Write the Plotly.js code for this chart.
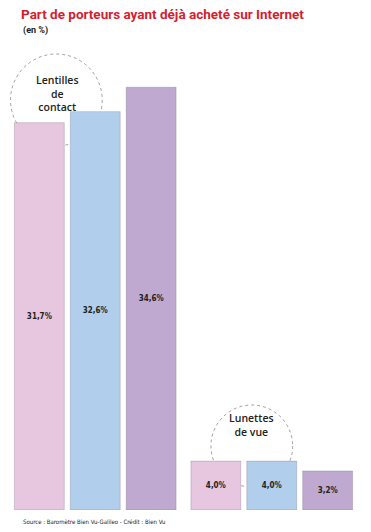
<!DOCTYPE html>
<html>
<head>
<meta charset="utf-8">
<script src="https://cdn.plot.ly/plotly-3.0.1.min.js"></script>
<style>
  html, body { margin: 0; padding: 0; background: #fff; }
  #chart { width: 371px; height: 532px; }
</style>
</head>
<body>
<div id="chart"></div>
<script>
// Data
const categories = ['Lentilles de contact', 'Lunettes de vue'];
const seriesNames = ['Série 1', 'Série 2', 'Série 3'];
const series1 = [31.7, 4.0];
const series2 = [32.6, 4.0];
const series3 = [34.6, 3.2];
const seriesColors = ['#e7c6df', '#b1cfec', '#bfa9d0'];

const fmt = v => v.toFixed(1).replace('.', ',') + '%';
const condensed = '"DejaVu Sans Condensed", "Liberation Sans Narrow", Arial, sans-serif';
const titleFont = 'Roboto, "Liberation Sans", Arial, sans-serif';

const allSeries = [series1, series2, series3];
const traces = allSeries.map((vals, i) => ({
  type: 'bar',
  name: seriesNames[i],
  x: categories,
  y: vals,
  text: vals.map(fmt),
  textposition: 'inside',
  insidetextanchor: 'middle',
  textangle: 0,
  constraintext: 'none',
  textfont: { family: condensed, size: 8, color: '#222222', weight: 'bold' },
  marker: { color: seriesColors[i], line: { color: 'rgba(80,70,90,0.22)', width: 1 } },
  hoverinfo: 'skip'
}));

const l = 6.5, r = 10.5, t = 60, b = 22;
const W = 371 - l - r, H = 532 - t - b;
const px = v => (v - l) / W;
const py = v => (532 - b - v) / H;

const layout = {
  width: 371, height: 532,
  margin: { l: l, r: r, t: t, b: b, pad: 0 },
  paper_bgcolor: '#ffffff', plot_bgcolor: 'rgba(0,0,0,0)',
  barmode: 'group',
  bargap: 0.05,
  bargroupgap: 0.107,
  showlegend: false,
  title: {
    text: 'Part de porteurs ayant déjà acheté sur Internet',
    font: { family: titleFont, size: 13.5, color: '#d3222f', weight: 'bold' },
    x: 21 / 371, xref: 'container', xanchor: 'left',
    y: 1 - 10 / 532, yref: 'container', yanchor: 'top'
  },
  xaxis: { type: 'category', visible: false, range: [-0.5, 1.5], fixedrange: true },
  yaxis: { visible: false, range: [0, H / 12.22], fixedrange: true },
  shapes: [
    { type: 'circle', xref: 'paper', yref: 'paper', layer: 'below',
      x0: px(10), x1: px(102), y0: py(146), y1: py(54),
      line: { color: '#777777', width: 0.7, dash: 'dot' } },
    { type: 'circle', xref: 'paper', yref: 'paper', layer: 'below',
      x0: px(211), x1: px(293), y0: py(487), y1: py(405),
      line: { color: '#777777', width: 0.7, dash: 'dot' } }
  ],
  annotations: [
    { text: '(en %)', xref: 'paper', yref: 'paper', x: px(21), y: py(31),
      xanchor: 'left', yanchor: 'middle', showarrow: false,
      font: { family: titleFont, size: 9, color: '#222222', weight: 'bold' } },
    { text: 'Lentilles<br>de<br>contact', xref: 'paper', yref: 'paper', x: px(57), y: py(93),
      xanchor: 'center', yanchor: 'middle', showarrow: false, align: 'center',
      font: { family: '"Open Sans", sans-serif', size: 10.5, color: '#222222', weight: 600 } },
    { text: 'Lunettes<br>de vue', xref: 'paper', yref: 'paper', x: px(252), y: py(425),
      xanchor: 'center', yanchor: 'middle', showarrow: false, align: 'center',
      font: { family: '"Open Sans", sans-serif', size: 10.5, color: '#222222', weight: 600 } },
    { text: 'Source : Baromètre Bien Vu-Galileo - Crédit : Bien Vu', xref: 'paper', yref: 'paper',
      x: px(21), y: py(521), xanchor: 'left', yanchor: 'middle', showarrow: false,
      font: { family: condensed, size: 6, color: '#222222' } }
  ]
};

Plotly.newPlot('chart', traces, layout, { displayModeBar: false, staticPlot: true });
</script>
</body>
</html>
